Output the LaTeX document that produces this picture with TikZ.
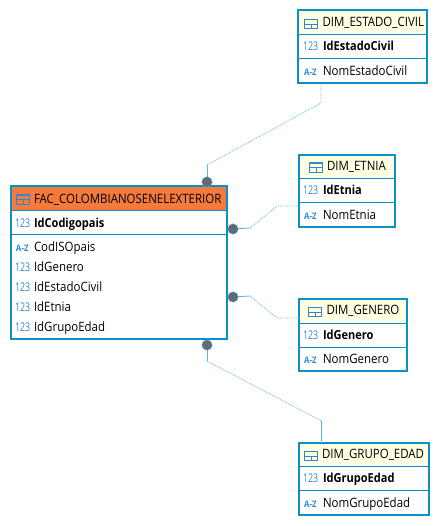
\documentclass[tikz,border=0pt]{standalone}
\usepackage{fontspec}
\setmainfont[FakeStretch=0.89]{Open Sans}
\newfontfamily\tagfont[FakeStretch=0.74]{Open Sans}
\usepackage{tikz}
\definecolor{tblblue}{HTML}{0B8FCB}
\definecolor{lnkblue}{HTML}{5FB6E0}
\definecolor{tagblue}{HTML}{2F88CC}
\definecolor{dotgrey}{HTML}{5F6B75}
\definecolor{headorange}{HTML}{F47B3C}
\definecolor{headyellow}{HTML}{FFFFE3}

\begin{document}
\begin{tikzpicture}[x=1pt, y=-1pt, every node/.style={inner sep=0pt, outer sep=0pt}]

\tikzset{frame/.style = {shape=rectangle, draw=tblblue, line width=2.4pt, anchor=north west}}
\tikzset{band/.style = {shape=rectangle, draw=tblblue, line width=0.9pt, anchor=north west}}
\tikzset{label/.style = {anchor=west, font=\fontsize{12.9}{14}\selectfont, text height=9.5pt, text depth=1pt, black}}
\tikzset{keylabel/.style = {label, font=\fontsize{12.4}{14}\selectfont\bfseries}}
\tikzset{numtag/.style = {anchor=west, font=\tagfont\fontsize{12}{14}\selectfont, text height=9.5pt, text depth=1pt, tagblue}}
\tikzset{alphatag/.style = {anchor=west, font=\fontsize{9}{10}\selectfont\bfseries, text height=9.5pt, text depth=1pt, tagblue}}
\tikzset{tblicon/.style = {shape=rectangle, draw=tagblue, line width=0.9pt, minimum width=13.5pt, minimum height=9pt,
    path picture={\draw[tagblue, line width=0.9pt]
        (path picture bounding box.west) -- (path picture bounding box.east)
        (path picture bounding box.center) -- (path picture bounding box.south);
      \draw[tagblue, line width=1.6pt]
        (path picture bounding box.north west) -- (path picture bounding box.north east);}}}
\tikzset{joint/.style = {shape=circle, fill=dotgrey, draw=lnkblue, line width=0.4pt, minimum size=10.5pt}}
\tikzset{link/.style = {draw=lnkblue, line width=0.8pt, densely dotted}}
\tikzset{linkend/.style = {draw=lnkblue, line width=0.8pt}}

\useasboundingbox (0,0) rectangle (439,526);

% fact table
\node[band, fill=headorange, minimum width=216pt, minimum height=24.5pt] (fachead) at (11,186) {};
\node[band, minimum width=216pt, minimum height=23.5pt] (fackey) at (11,210.5) {};
\node[frame, minimum width=216pt, minimum height=153pt] (fac) at (11,186) {};
\node[tblicon] (facicon) at (23,199.5) {};
\node[label] (factitle) at (34,199) {FAC\_COLOMBIANOSENELEXTERIOR};
\node[numtag] (factag1) at (15,223) {123};
\node[keylabel] (facrow1) at (34,223) {IdCodigopais};
\node[alphatag] (factag2) at (16,247) {A-Z};
\node[label] (facrow2) at (34,247) {CodISOpais};
\node[numtag] (factag3) at (15,267) {123};
\node[label] (facrow3) at (34,267) {IdGenero};
\node[numtag] (factag4) at (15,287) {123};
\node[label] (facrow4) at (34,287) {IdEstadoCivil};
\node[numtag] (factag5) at (15,307) {123};
\node[label] (facrow5) at (34,307) {IdEtnia};
\node[numtag] (factag6) at (15,327) {123};
\node[label] (facrow6) at (34,327) {IdGrupoEdad};

% DIM_ESTADO_CIVIL
\node[band, fill=headyellow, minimum width=129pt, minimum height=24pt] (esthead) at (298,10) {};
\node[band, minimum width=129pt, minimum height=24pt] (estkey) at (298,34) {};
\node[frame, minimum width=129pt, minimum height=73pt] (est) at (298,10) {};
\node[tblicon] (esticon) at (311,24) {};
\node[label] (esttitle) at (322.5,22.5) {DIM\_ESTADO\_CIVIL};
\node[numtag] (esttag1) at (303,46.5) {123};
\node[keylabel] (estrow1) at (323,46.5) {IdEstadoCivil};
\node[alphatag] (esttag2) at (304,71) {A-Z};
\node[label] (estrow2) at (323,71) {NomEstadoCivil};

% DIM_ETNIA
\node[band, fill=headyellow, minimum width=96pt, minimum height=23pt] (etnhead) at (299,155) {};
\node[band, minimum width=96pt, minimum height=24pt] (etnkey) at (299,178) {};
\node[frame, minimum width=96pt, minimum height=72pt] (etn) at (299,155) {};
\node[tblicon] (etnicon) at (316,167.5) {};
\node[label] (etntitle) at (327,166.5) {DIM\_ETNIA};
\node[numtag] (etntag1) at (303,190.5) {123};
\node[keylabel] (etnrow1) at (323,190.5) {IdEtnia};
\node[alphatag] (etntag2) at (304,215) {A-Z};
\node[label] (etnrow2) at (323,215) {NomEtnia};

% DIM_GENERO
\node[band, fill=headyellow, minimum width=108pt, minimum height=24pt] (gnrhead) at (299,299) {};
\node[band, minimum width=108pt, minimum height=24pt] (gnrkey) at (299,323) {};
\node[frame, minimum width=108pt, minimum height=72pt] (gnr) at (299,299) {};
\node[tblicon] (gnricon) at (315,312) {};
\node[label] (gnrtitle) at (326.5,310.5) {DIM\_GENERO};
\node[numtag] (gnrtag1) at (303,335) {123};
\node[keylabel] (gnrrow1) at (323,335) {IdGenero};
\node[alphatag] (gnrtag2) at (304,359) {A-Z};
\node[label] (gnrrow2) at (323,359) {NomGenero};

% DIM_GRUPO_EDAD
\node[band, fill=headyellow, minimum width=130pt, minimum height=23pt] (gruhead) at (299,443) {};
\node[band, minimum width=130pt, minimum height=24pt] (grukey) at (299,466) {};
\node[frame, minimum width=130pt, minimum height=72pt] (gru) at (299,443) {};
\node[tblicon] (gruicon) at (311,456) {};
\node[label] (grutitle) at (322,454.5) {DIM\_GRUPO\_EDAD};
\node[numtag] (grutag1) at (303,478.5) {123};
\node[keylabel] (grurow1) at (323,478.5) {IdGrupoEdad};
\node[alphatag] (grutag2) at (304,503) {A-Z};
\node[label] (grurow2) at (323,503) {NomGrupoEdad};

% bends
\coordinate (a1) at (207,165);
\coordinate (a2) at (321,103);
\coordinate (a3) at (321,83);
\coordinate (b1) at (250,228);
\coordinate (b2) at (277,206);
\coordinate (b3) at (etn.west |- b2);
\coordinate (c1) at (250,296);
\coordinate (c2) at (277,318);
\coordinate (c3) at (gnr.west |- c2);
\coordinate (d1) at (207,361);
\coordinate (d2) at (321.5,421);
\coordinate (d3) at (321.5,443);

% joints
\node[joint] (j1) at (207,182) {};
\node[joint] (j2) at (233,229) {};
\node[joint] (j3) at (233,297) {};
\node[joint] (j4) at (207,345) {};

%edges
\draw[linkend] (j1) -- (a1);
\draw[link] (a1) -- (a2) -- (a3);
\draw[linkend] (j2) -- (b1);
\draw[link] (b1) -- (b2) -- (b3);
\draw[linkend] (j3) -- (c1);
\draw[link] (c1) -- (c2) -- (c3);
\draw[linkend] (j4) -- (d1);
\draw[link] (d1) -- (d2);
\draw[linkend] (d2) -- (d3);

\end{tikzpicture}
\end{document}
